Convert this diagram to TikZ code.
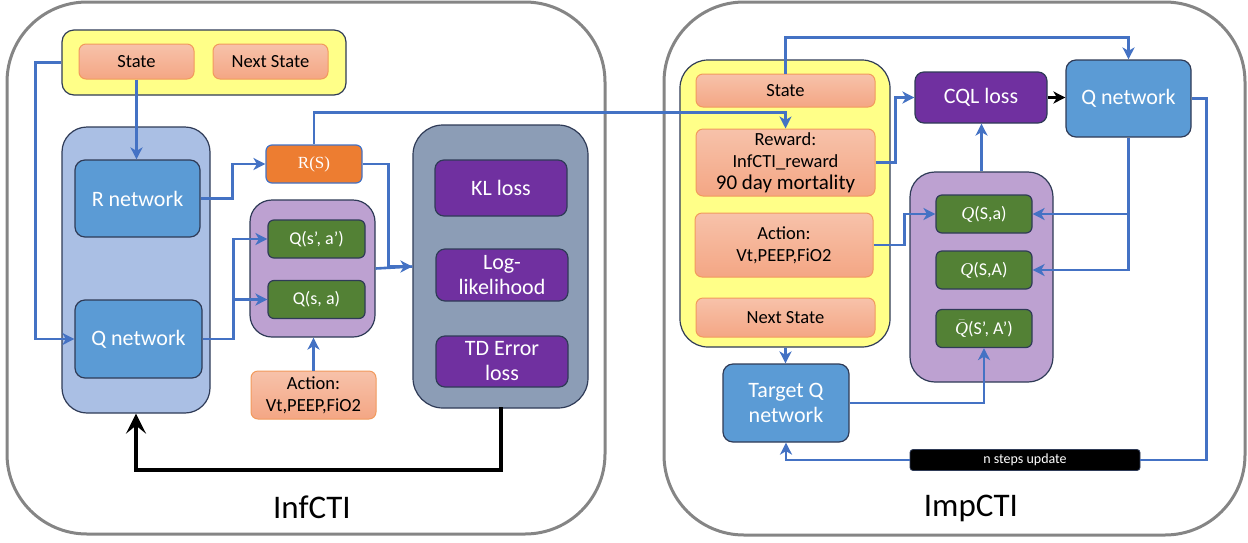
\documentclass[tikz,border=0pt]{standalone}
\usepackage{fontspec}
\setmainfont{Carlito}
\newfontfamily\rsfont{Liberation Serif}
\usetikzlibrary{arrows.meta}
\definecolor{yel}{HTML}{FFFF88}
\definecolor{salT}{HTML}{F7C2AA}
\definecolor{salB}{HTML}{F4A684}
\definecolor{salD}{HTML}{F29A5C}
\definecolor{navy}{HTML}{2F3B57}
\definecolor{lblue}{HTML}{AABFE4}
\definecolor{nblue}{HTML}{5B9BD5}
\definecolor{orng}{HTML}{ED7D31}
\definecolor{lpur}{HTML}{BDA1D1}
\definecolor{grn}{HTML}{538135}
\definecolor{gblue}{HTML}{8C9DB6}
\definecolor{dpur}{HTML}{7030A0}
\definecolor{conn}{HTML}{4472C4}
\definecolor{panelc}{HTML}{858585}
\newcommand\fsz[2]{\fontsize{#1}{#2}\selectfont}
\newcommand\qit{{\rsfont\itshape Q}}
\tikzset{
  panelbox/.style={draw=panelc, line width=3pt, rounded corners=80pt, fill=white},
  cont/.style={draw=navy, line width=1.2pt, inner sep=0pt},
  salbox/.style={draw=salD, line width=1pt, rounded corners=7pt, top color=salT, bottom color=salB, inner sep=0pt, align=center, text=black, font=\fsz{18.5}{22}},
  bluebox/.style={draw=navy, line width=1.2pt, rounded corners=10pt, fill=nblue, inner sep=0pt, align=center, text=white, font=\fsz{22}{25}},
  purbox/.style={draw=navy, line width=1.2pt, rounded corners=9pt, fill=dpur, inner sep=0pt, align=center, text=white, font=\fsz{22}{25}},
  grnbox/.style={draw=navy, line width=1.2pt, rounded corners=6pt, fill=grn, inner sep=0pt, align=center, text=white, font=\fsz{18}{21}},
  bl/.style={draw=conn, line width=2.6pt, -{Stealth[length=12pt,width=12pt,inset=3.5pt]}},
  bll/.style={draw=conn, line width=2.6pt},
  blk/.style={draw=black, line width=3pt, -{Stealth[length=12pt,width=12pt,inset=3.5pt]}},
  blkthick/.style={draw=black, line width=4pt, line cap=rect, -{Stealth[length=20pt,width=20pt,inset=8pt]}},
}
\begin{document}
\begin{tikzpicture}[x=1pt,y=-1pt]
\useasboundingbox (0,0) rectangle (1248,542);
% panels
\node[panelbox, minimum width=598pt, minimum height=532pt] (pL) at (306,268) {};
\node[panelbox, minimum width=581pt, minimum height=533pt] (pR) at (954.5,268.5) {};
\node[font=\fsz{33}{40}] (lblL) at (312,507) {InfCTI};
\node[font=\fsz{33}{40}] (lblR) at (971,508) {ImpCTI};

% ---------------- left panel ----------------
\node[cont, fill=yel, rounded corners=12pt, minimum width=284pt, minimum height=65pt] (yelL) at (204,62.5) {};
\node[salbox, minimum width=115pt, minimum height=35pt] (stL) at (136.5,61.5) {State};
\node[salbox, minimum width=115pt, minimum height=35pt] (nsL) at (270.5,61.5) {Next State};

\node[cont, fill=lblue, rounded corners=25pt, minimum width=148pt, minimum height=286pt] (lbC) at (136,270) {};
\node[bluebox, minimum width=125pt, minimum height=77pt] (rnet) at (137.5,198.5) {R network};
\node[bluebox, minimum width=127pt, minimum height=78pt] (qnetL) at (138.5,339) {Q network};

\node[draw=conn, line width=1.2pt, rounded corners=6pt, fill=orng, inner sep=0pt, text=white, font=\rsfont\fsz{17}{20}, minimum width=96pt, minimum height=38pt] (rs) at (314,164) {R(S)};

\node[cont, fill=lpur, rounded corners=22pt, minimum width=125pt, minimum height=137pt] (puC) at (312.5,268.5) {};
\node[grnbox, minimum width=97pt, minimum height=38pt] (qsa1) at (316.5,239) {Q(s’, a’)};
\node[grnbox, minimum width=97pt, minimum height=38pt] (qsa2) at (316.5,299.5) {Q(s, a)};
\node[salbox, minimum width=125pt, minimum height=48pt] (actL) at (313.5,395) {Action:\\Vt,PEEP,FiO2};

\node[cont, fill=gblue, rounded corners=30pt, minimum width=175pt, minimum height=283pt] (gC) at (500.5,266.5) {};
\node[purbox, minimum width=132pt, minimum height=56pt] (kl) at (501,188) {KL loss};
\node[purbox, minimum width=132pt, minimum height=52pt] (ll) at (502,275) {Log-\\likelihood};
\node[purbox, minimum width=132pt, minimum height=51pt] (td) at (502,361.5) {TD Error\\loss};

% ---------------- right panel ----------------
\node[cont, fill=yel, rounded corners=28pt, minimum width=210pt, minimum height=287pt] (yelR) at (785,203.5) {};
\node[salbox, minimum width=179pt, minimum height=33pt] (st2) at (785.5,90.5) {State};
\node[salbox, minimum width=179pt, minimum height=67pt] (rew) at (785.5,162.5) {Reward:\\InfCTI\_reward\\{\fsz{21}{23}90 day mortality}};
\node[salbox, minimum width=178pt, minimum height=64pt] (act2) at (784,245) {Action:\\Vt,PEEP,FiO2};
\node[salbox, minimum width=179pt, minimum height=39pt] (ns2) at (785.5,317.5) {Next State};

\node[purbox, minimum width=132pt, minimum height=51pt] (cql) at (981,97.5) {CQL loss};
\node[bluebox, minimum width=125pt, minimum height=77pt] (qnR) at (1128.5,98.5) {Q network};

\node[cont, fill=lpur, rounded corners=25pt, minimum width=143pt, minimum height=210pt] (puR) at (981.5,277) {};
\node[grnbox, minimum width=96pt, minimum height=38pt] (qa) at (984,214) {\qit(S,a)};
\node[grnbox, minimum width=96pt, minimum height=38pt] (qA) at (984,270) {\qit(S,A)};
\node[grnbox, minimum width=96pt, minimum height=38pt] (qb) at (984,328.5) {$\bar{\mbox{\qit}}$(S’, A’)};

\node[bluebox, minimum width=126pt, minimum height=78pt] (tq) at (786,403) {Target Q\\network};
\node[draw=navy, line width=0.8pt, rounded corners=3pt, fill=black, text=white, inner sep=0pt, font=\fsz{14}{16}, minimum width=230pt, minimum height=21pt] (bar) at (1025,460) {n steps update};

% ---------------- connectors left ----------------
\draw[bl] (stL.south) -- (stL.south |- rnet.north);
\draw[bl] (yelL.west) -- ++(-26,0) |- (qnetL.west);
\draw[bl] (rnet.east) -- ++(32,0) |- (rs.west);
\draw[bll] (puC.east) -- (gC.west);
\draw[bl] (rs.east) -- ++(26,0) |- (gC.west);
\draw[bl] (qnetL.east) -- ++(31,0) |- (qsa1.west);
\draw[bl] (qnetL.east) -- ++(31,0) |- (qsa2.west);
\draw[bl] (actL.north) -- (actL.north |- puC.south);
\draw[blkthick] (gC.south) -- ++(0,61) -| (lbC.south);

% ---------------- connectors cross / right ----------------
\draw[bl] (rs.north) -- ++(0,-32) -| (rew.north);
\draw[bl] (st2.north) -- ++(0,-36) -| (qnR.north);
\draw[bl] (rew.east) -- ++(20,0) |- (cql.west);
\draw[bl] (act2.east) -- ++(31,0) |- (qa.west);
\draw[blk] (cql.east) -- (qnR.west |- cql.east);
\draw[bl] (puR.north) -- (puR.north |- cql.south);
\draw[bl] (qnR.south) |- (qa.east);
\draw[bl] (qnR.south) |- (qA.east);
\draw[bll] (qnR.east) -- ++(15,0) |- (bar.east);
\draw[bl] (bar.west) -| (tq.south);
\draw[bl] (ns2.south |- yelR.south) -- (ns2.south |- tq.north);
\draw[bl] (tq.east) -| (qb.south);
\end{tikzpicture}
\end{document}
